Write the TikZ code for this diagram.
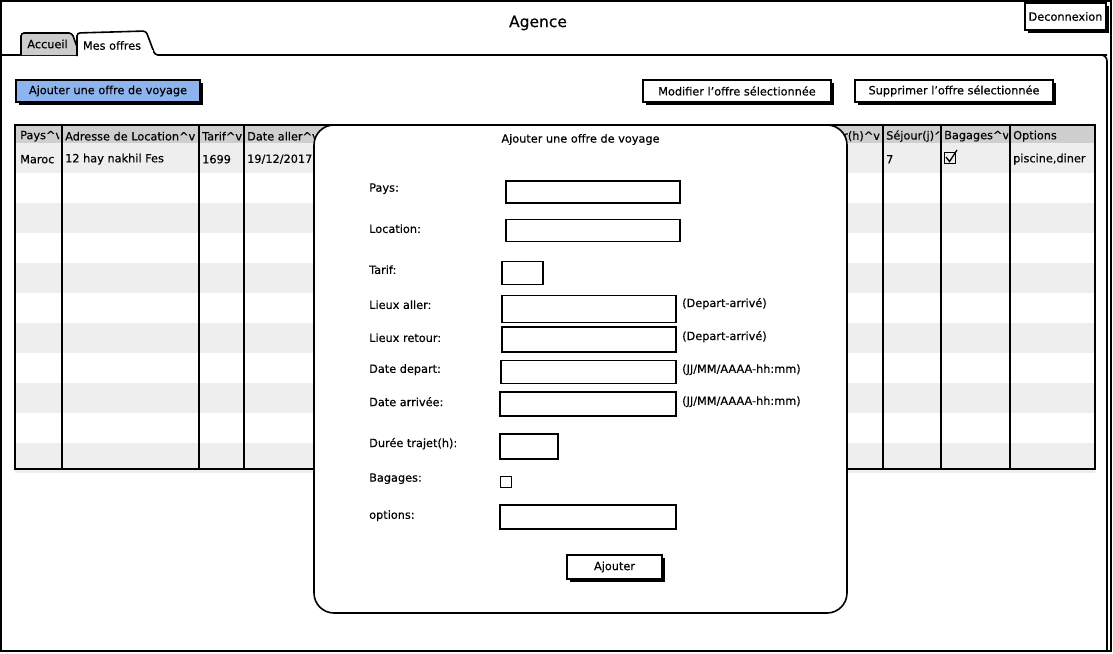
\documentclass[tikz,border=0pt]{standalone}
\usepackage{fontspec}
\setmainfont{DejaVu Sans}[FakeBold=0.35]
\usetikzlibrary{shadows}
\definecolor{btnblue}{HTML}{8EB4F0}
\definecolor{hdrgray}{HTML}{CFCFCF}
\definecolor{rowgray}{HTML}{EEEEEE}
\definecolor{tabgray}{HTML}{CCCCCC}
\tikzset{
  frame/.style={draw=black, line width=1.6pt},
  uifont/.style={font=\fontsize{11.3}{13}\selectfont},
  lbl/.style={uifont, anchor=west, inner sep=0pt, yshift=-1.2pt},
  field/.style={draw=black, line width=1.6pt, fill=white, inner sep=0pt},
  shadowed/.style={drop shadow={shadow xshift=2.5pt, shadow yshift=-2.5pt, fill=black, opacity=1}},
  btn/.style={draw=black, line width=1.3pt, fill=white, uifont, inner sep=0pt, shadowed},
  colline/.style={draw=black, line width=1.3pt},
}
\begin{document}
\begin{tikzpicture}[x=1pt,y=-1pt]
\useasboundingbox (0,0) rectangle (1113,653);
\fill[white] (0,0) rectangle (1113,653);
% outer window
\draw[frame] (1,1) rectangle (1111,651);
\node[font=\fontsize{15.5}{18}\selectfont, inner sep=0pt] (title) at (538,23) {Agence};
\node[btn, minimum width=81, minimum height=27] (deco) at (1065.5,16.5) {Deconnexion};
% tab panel
\draw[frame, rounded corners=6] (1,55) -- (1107,55) -- (1107,651);
% tabs
\draw[frame, fill=tabgray, rounded corners=3] (21,55) -- (21,33) -- (72,33) -- (80,55);
\draw[frame, fill=white, rounded corners=3] (77,56) -- (77,33) -- (146,31) -- (155,55) -- (1107,55);
\fill[white] (78.5,50) rectangle (153,57);
\node[uifont, inner sep=0pt] (tabacc) at (47.5,44) {Accueil};
\node[uifont, inner sep=0pt] (tabmes) at (112,45.5) {Mes offres};
% buttons
\node[btn, fill=btnblue, minimum width=184, minimum height=22] (add) at (108,91) {Ajouter une offre de voyage};
\node[btn, minimum width=188, minimum height=22] (modif) at (737,91) {Modifier l'offre sélectionnée};
\node[btn, minimum width=198, minimum height=22] (suppr) at (954,91) {Supprimer l'offre sélectionnée};
% table
\fill[hdrgray] (15,125) rectangle (1095,143);
\foreach \y in {143,203,263,323,383,443} {\fill[rowgray] (15,\y) rectangle (1095,\y+30);}
\foreach \x in {62,199,244,330,883,941,1010} {\draw[colline] (\x,125) -- (\x,469);}
\draw[frame] (15,125) rectangle (1095,469);
% header and data texts (clipped to cells)
\begin{scope}\clip (15,126) rectangle (59,173);
\node[lbl] (h1) at (20,135) {Pays\^{}v}; \node[lbl] (d1) at (20,158) {Maroc};\end{scope}
\begin{scope}\clip (62,126) rectangle (197,173);
\node[lbl] (h2) at (65,135) {Adresse de Location\^{}v}; \node[lbl] (d2) at (65,158) {12 hay nakhil Fes};\end{scope}
\begin{scope}\clip (199,126) rectangle (242,173);
\node[lbl] (h3) at (202,135) {Tarif\^{}v}; \node[lbl] (d3) at (202,158) {1699};\end{scope}
\begin{scope}\clip (244,126) rectangle (328,173);
\node[lbl] (h4) at (247,135) {Date aller\^{}v}; \node[lbl] (d4) at (247,158) {19/12/2017};\end{scope}
\begin{scope}\clip (845,126) rectangle (881,173);
\node[lbl] (h5) at (843,135) {r(h)\^{}v};\end{scope}
\begin{scope}\clip (883,126) rectangle (939,173);
\node[lbl] (h6) at (886,135) {Séjour(j)\^{}v}; \node[lbl] (d6) at (886,158) {7};\end{scope}
\begin{scope}\clip (941,126) rectangle (1008,173);
\node[lbl] (h7) at (944,135) {Bagages\^{}v};\end{scope}
\begin{scope}\clip (1010,126) rectangle (1086,173);
\node[lbl] (h8) at (1013,135) {Options}; \node[lbl] (d8) at (1013,158) {piscine,diner};\end{scope}
\node[draw=black, line width=0.9pt, minimum size=11, inner sep=0pt] (chk) at (950,158) {};
\draw[line width=1.3pt] (946,157) -- (949.5,161.5) -- (957,150);
% dialog
\node[draw=black, line width=1.6pt, fill=white, rounded corners=20, minimum width=533, minimum height=488, inner sep=0pt] (dlg) at (580.5,369) {};
\node[uifont, inner sep=0pt] (dtitle) at (580.5,139.5) {Ajouter une offre de voyage};
\node[lbl] (lpays) at (369,187.5) {Pays:};
\node[field, minimum width=174, minimum height=22] (fpays) at (593,192) {};
\node[lbl] (lloc) at (369,227.5) {Location:};
\node[field, minimum width=174, minimum height=22] (floc) at (593,230.5) {};
\node[lbl] (ltarif) at (369,268.5) {Tarif:};
\node[field, minimum width=41, minimum height=23] (ftarif) at (522.5,273) {};
\node[lbl] (lla) at (369,303.5) {Lieux aller:};
\node[field, minimum width=174, minimum height=27] (fla) at (589,309) {};
\node[lbl] (nla) at (682,302.5) {(Depart-arrivé)};
\node[lbl] (llr) at (369,336.5) {Lieux retour:};
\node[field, minimum width=174, minimum height=25] (flr) at (589,339.5) {};
\node[lbl] (nlr) at (682,335.5) {(Depart-arrivé)};
\node[lbl] (ldd) at (369,368.5) {Date depart:};
\node[field, minimum width=175, minimum height=23] (fdd) at (588.5,372) {};
\node[lbl] (ndd) at (682,368.5) {(JJ/MM/AAAA-hh:mm)};
\node[lbl] (lda) at (369,400.5) {Date arrivée:};
\node[field, minimum width=176, minimum height=24] (fda) at (588,404) {};
\node[lbl] (nda) at (682,400.5) {(JJ/MM/AAAA-hh:mm)};
\node[lbl] (ldt) at (369,442.5) {Durée trajet(h):};
\node[field, minimum width=58, minimum height=25] (fdt) at (529,446.5) {};
\node[lbl] (lbag) at (369,477.5) {Bagages:};
\node[draw=black, line width=0.9pt, fill=white, minimum size=11, inner sep=0pt] (fbag) at (505.5,482) {};
\node[lbl] (lopt) at (369,514.5) {options:};
\node[field, minimum width=176, minimum height=24] (fopt) at (588,517) {};
\node[btn, minimum width=95, minimum height=24] (ajout) at (614.5,567) {Ajouter};
\end{tikzpicture}
\end{document}
